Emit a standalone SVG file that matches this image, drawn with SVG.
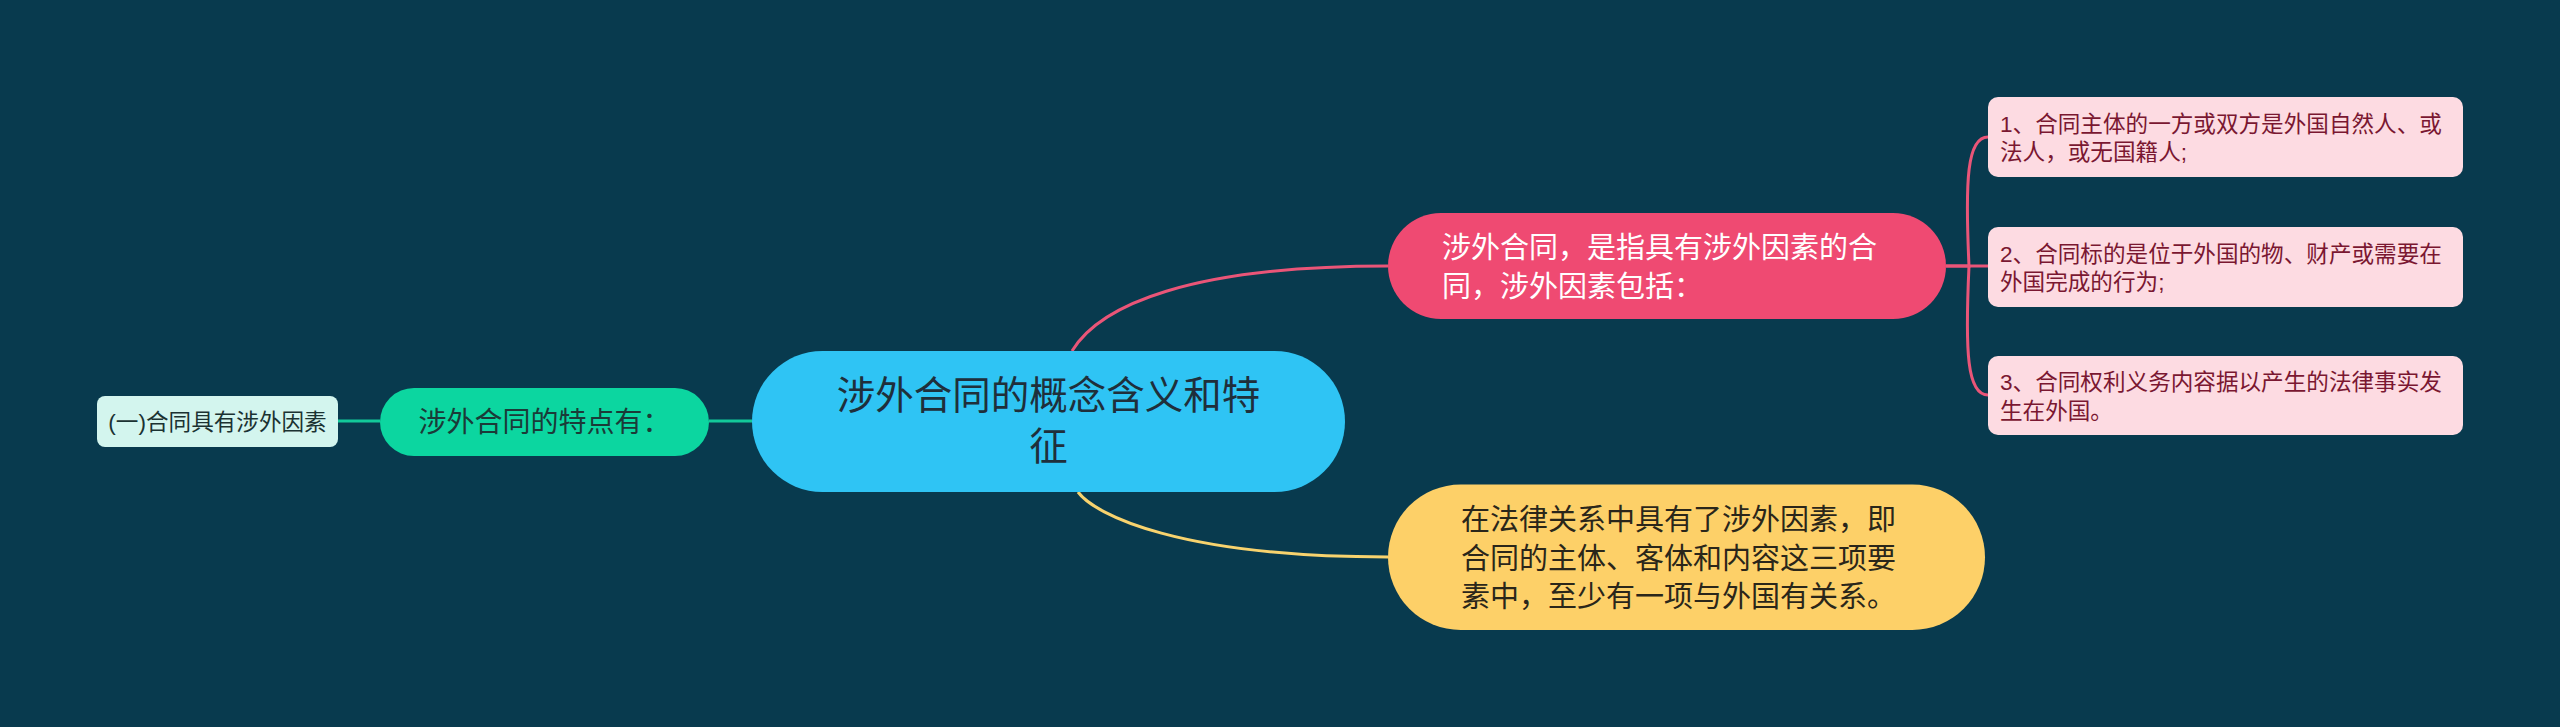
<svg xmlns="http://www.w3.org/2000/svg" width="2560" height="727" viewBox="0 0 2560 727">
<style>
text{font-family:"Liberation Sans","Noto Sans CJK SC",sans-serif;}
.root{fill:#2fc4f4;}
.rootT{fill:#1f2f3b;font-size:38.5px;text-anchor:middle;}
.green{fill:#0cd6a0;}
.greenT{fill:#1b3b38;font-size:28px;text-anchor:middle;}
.leafG{fill:#d3f5ee;}
.leafGT{fill:#1b3232;font-size:22.6px;text-anchor:middle;}
.pink{fill:#ef4a72;}
.pinkT{fill:#ffffff;font-size:29px;}
.yellow{fill:#fdd068;}
.yellowT{fill:#2a261a;font-size:29px;}
.leafP{fill:#fddbe2;}
.leafPT{fill:#7a1731;font-size:22.6px;}
.c{fill:none;stroke-width:3;}
</style>
<rect width="2560" height="727" fill="#083a4e"/>
<g id="connectors">
<path class="c" stroke="#12c99a" d="M338,421 L380,421"/>
<path class="c" stroke="#12c99a" d="M709,421 L752,421"/>
<path class="c" stroke="#ea5578" d="M1072,351 C1100,305 1190,266 1388,266"/>
<path class="c" stroke="#f8d36e" d="M1078,492 C1095,515 1180,557 1388,557"/>
<path class="c" stroke="#ea5578" d="M1946,266 L1988,266"/>
<path class="c" stroke="#ea5578" d="M1946,266 L1969,266 C1965,180 1967,137 1988,137"/>
<path class="c" stroke="#ea5578" d="M1969,266 C1965,352 1967,395 1988,395"/>
</g>
<g id="root">
<rect class="root" x="752" y="351" width="593" height="141" rx="70.5"/>
<text class="rootT" x="1048.5" y="409">涉外合同的概念含义和特</text>
<text class="rootT" x="1048.5" y="460">征</text>
</g>
<g id="node-features">
<rect class="green" x="380" y="388" width="329" height="68" rx="34"/>
<text class="greenT" x="544.5" y="432">涉外合同的特点有：</text>
</g>
<g id="node-foreign-element">
<rect class="leafG" x="97" y="396" width="241" height="51" rx="8"/>
<text class="leafGT" x="217.5" y="430">(一)合同具有涉外因素</text>
</g>
<g id="node-definition">
<rect class="pink" x="1388" y="213" width="558" height="106" rx="53"/>
<text class="pinkT" x="1442" y="258">涉外合同，是指具有涉外因素的合</text>
<text class="pinkT" x="1442" y="297">同，涉外因素包括：</text>
</g>
<g id="node-relation">
<rect class="yellow" x="1388" y="484.5" width="597" height="145.5" rx="72.7"/>
<text class="yellowT" x="1461" y="530">在法律关系中具有了涉外因素，即</text>
<text class="yellowT" x="1461" y="569">合同的主体、客体和内容这三项要</text>
<text class="yellowT" x="1461" y="607">素中，至少有一项与外国有关系。</text>
</g>
<g id="node-item1">
<rect class="leafP" x="1988" y="97" width="475" height="80" rx="10"/>
<text class="leafPT" x="2000" y="132">1、合同主体的一方或双方是外国自然人、或</text>
<text class="leafPT" x="2000" y="160">法人，或无国籍人;</text>
</g>
<g id="node-item2">
<rect class="leafP" x="1988" y="227" width="475" height="80" rx="10"/>
<text class="leafPT" x="2000" y="261.5">2、合同标的是位于外国的物、财产或需要在</text>
<text class="leafPT" x="2000" y="290">外国完成的行为;</text>
</g>
<g id="node-item3">
<rect class="leafP" x="1988" y="356" width="475" height="79" rx="10"/>
<text class="leafPT" x="2000" y="390">3、合同权利义务内容据以产生的法律事实发</text>
<text class="leafPT" x="2000" y="418.5">生在外国。</text>
</g>
</svg>
